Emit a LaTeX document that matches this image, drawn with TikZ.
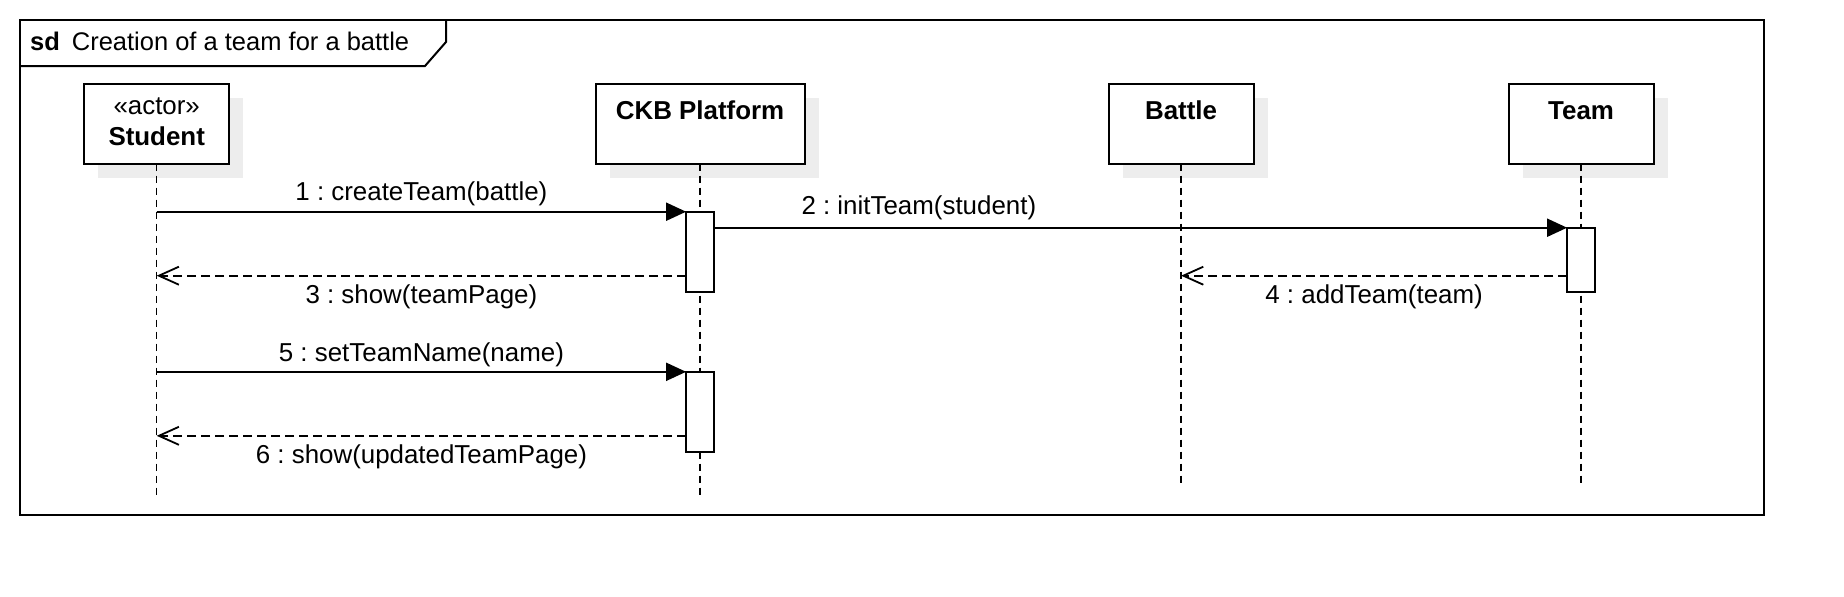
\documentclass[tikz,border=0pt]{standalone}
\usepackage{fontspec}
\setmainfont{Liberation Sans}
\usetikzlibrary{arrows.meta,shadows,positioning}

\begin{document}
\begin{tikzpicture}[x=0.5pt,y=-0.5pt,
    every node/.style={font=\fontsize{12.95}{15}\selectfont\frenchspacing,inner sep=0pt},
    lifebox/.style={draw,line width=1pt,fill=white,outer sep=0pt,minimum width=72.5pt,minimum height=40pt,
      drop shadow={shadow xshift=7pt,shadow yshift=-7pt,fill=black!7,opacity=1}},
    lifeline/.style={line width=0.7pt,dash pattern=on 3.7pt off 2.3pt},
    actbar/.style={draw,line width=0.8pt,fill=white,outer sep=0pt,minimum width=14pt},
    call/.style={-{Triangle[length=10pt,width=9pt]},line width=1pt},
    reply/.style={-{Straight Barb[length=10pt,width=9pt]},line width=0.9pt,dash pattern=on 4.5pt off 2.5pt},
    lbl/.style={anchor=base}]
    \useasboundingbox (0,0) rectangle (1844,596);

    % frame
    \draw[line width=1pt] (20,20) rectangle (1764,515);
    \draw[line width=1pt] (20,66) -- (425,66) -- (446,42) -- (446,20);
    \node[anchor=base west,font=\fontsize{12.75}{15}\selectfont] (title) at (29.7,50)
      {\textbf{sd}\hspace{6pt}Creation of a team for a battle};

    % participants
    \node[lifebox] (student) at (156.7,123.5) {};
    \node[lifebox,minimum width=104.5pt,right=183.2pt of student] (ckb) {};
    \node[lifebox,right=152pt of ckb] (battle) {};
    \node[lifebox,right=127.5pt of battle] (team) {};

    \node[lbl] (stereo) at ([yshift=-15.6pt]student.north) {«actor»};
    \node[lbl] (studentname) at ([yshift=-31.1pt]student.north) {\textbf{Student}};
    \node[lbl] (ckbname) at ([yshift=-18.2pt]ckb.north) {\textbf{CKB Platform}};
    \node[lbl] (battlename) at ([yshift=-18.2pt]battle.north) {\textbf{Battle}};
    \node[lbl] (teamname) at ([yshift=-18.2pt]team.north) {\textbf{Team}};

    % lifelines
    \draw[lifeline] (student.south) -- ++(0,331);
    \draw[lifeline] (ckb.south) -- ++(0,331);
    \draw[lifeline] (battle.south) -- ++(0,319);
    \draw[lifeline] (team.south) -- ++(0,319);

    % activations
    \node[actbar,minimum height=40pt] (act1) at (ckb |- 0,251.7) {};
    \node[actbar,minimum height=32pt] (act2) at (team |- 0,259.7) {};
    \node[actbar,minimum height=40pt] (act3) at (ckb |- 0,411.8) {};

    \coordinate (r3) at ([yshift=8pt]act1.south west);
    \coordinate (r4) at ([yshift=8pt]act2.south west);
    \coordinate (r6) at ([yshift=8pt]act3.south west);

    % messages
    \draw[call] (student |- act1.north) -- (act1.north west)
      node[lbl,midway,yshift=5.85pt] (l1) {1 : createTeam(battle)};
    \draw[call] (act1.east |- act2.north) -- (act2.north west)
      node[lbl,pos=0.24,yshift=6.65pt] (l2) {2 : initTeam(student)};
    \draw[reply] (r3) -- (student |- r3)
      node[lbl,midway,yshift=-13.8pt] (l3) {3 : show(teamPage)};
    \draw[reply] (r4) -- (battle |- r4)
      node[lbl,midway,yshift=-14pt] (l4) {4 : addTeam(team)};
    \draw[call] (student |- act3.north) -- (act3.north west)
      node[lbl,midway,yshift=5pt] (l5) {5 : setTeamName(name)};
    \draw[reply] (r6) -- (student |- r6)
      node[lbl,midway,yshift=-13.65pt] (l6) {6 : show(updatedTeamPage)};
\end{tikzpicture}
\end{document}
